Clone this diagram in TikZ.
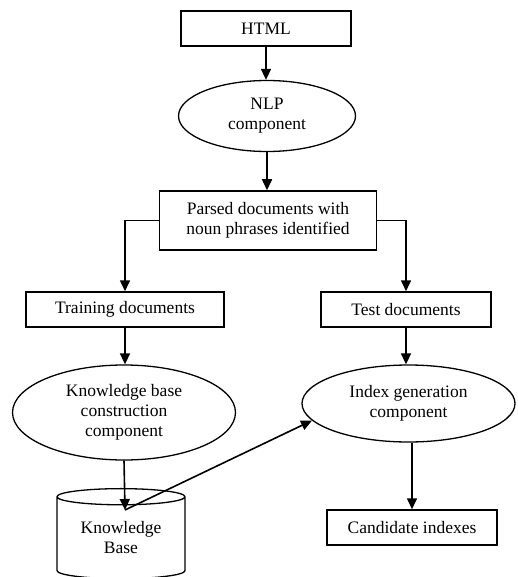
\documentclass[tikz,border=0pt]{standalone}
\usepackage{fontspec}
\setmainfont{Liberation Serif}
\usepackage{tikz}
\usetikzlibrary{arrows.meta,shapes.geometric}
\tikzset{
  ar/.style={-{Triangle[length=11pt,width=10pt]},line width=1.6pt},
  box/.style={draw,line width=1.5pt,align=center,inner sep=0pt},
  oval/.style={draw,ellipse,line width=1.3pt,align=center,inner sep=0pt}
}
\begin{document}
\begin{tikzpicture}[x=1pt,y=-1pt,font=\fontsize{17.5}{20}\selectfont]
\useasboundingbox (0,0) rectangle (517,577);
\node[box,minimum width=170pt,minimum height=35pt] (html) at (266,28.5) {HTML};
\node[oval,minimum width=177pt,minimum height=71pt] (nlp) at (267,116) {NLP\\component};
\node[box,minimum width=217pt,minimum height=59pt] (parsed) at (268,220.5) {Parsed documents with\\noun phrases identified};
\node[box,minimum width=198pt,minimum height=35pt] (train) at (125,309.5) {Training documents};
\node[box,minimum width=170pt,minimum height=35pt] (test) at (406,309.5) {Test documents};
\node[oval,minimum width=223pt,minimum height=95pt] (kbc) at (124,412.5) {Knowledge base\\construction\\component};
\node[oval,minimum width=213pt,minimum height=77pt] (idx) at (408.5,403.5) {Index generation\\component};
\node[draw,cylinder,shape border rotate=90,aspect=0.2,line width=1.3pt,align=center,inner sep=0pt,
  minimum width=128pt,minimum height=90pt] (kb) at (121,538) {Knowledge\\Base};
\node[box,minimum width=170pt,minimum height=35pt] (cand) at (412,527.5) {Candidate indexes};
\coordinate (kbtop) at (125,510);
% arrows
\draw[ar] (html.south) -- (html.south |- nlp.north);
\draw[ar] (nlp.south) -- (nlp.south |- parsed.north);
\draw[ar] (parsed.west) -| (train.north);
\draw[ar] (parsed.east) -| (test.north);
\draw[ar] (train.south) -- (train.south |- kbc.north);
\draw[ar] (test.south) -- (test.south |- idx.north);
\draw[ar] (kbc.south) -- (kbtop);
\draw[ar] (kbtop) -- (idx.190);
\draw[ar] (cand.north |- idx.south) -- (cand.north);
\end{tikzpicture}
\end{document}
